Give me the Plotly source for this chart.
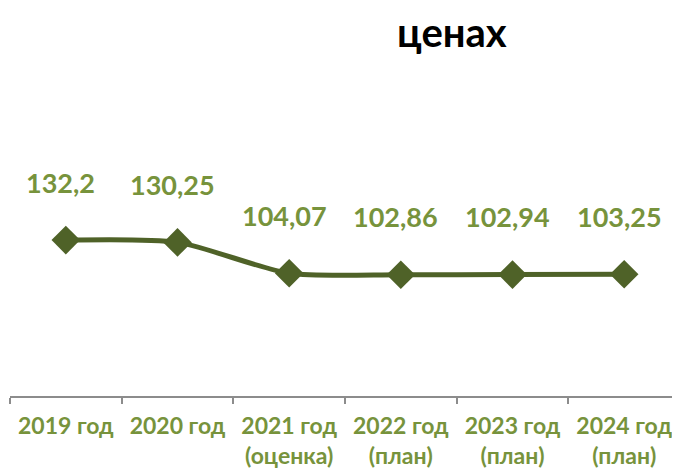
import plotly.graph_objects as go

categories = ["2019 год", "2020 год", "2021 год<br>(оценка)", "2022 год<br>(план)", "2023 год<br>(план)", "2024 год<br>(план)"]
values = [132.2, 130.25, 104.07, 102.86, 102.94, 103.25]
value_labels = ["132,2", "130,25", "104,07", "102,86", "102,94", "103,25"]

LINE = "#4F6228"
LABEL = "#77933C"
FONT = "Lato, 'Open Sans', sans-serif"

fig = go.Figure()
fig.add_trace(go.Scatter(
    x=categories, y=values, mode="lines+markers",
    line=dict(color=LINE, width=5, shape="spline", smoothing=0.7),
    marker=dict(symbol="diamond", size=22, color=LINE),
    hoverinfo="skip",
))

for c, v, t in zip(categories, values, value_labels):
    fig.add_annotation(x=c, y=v, text=t, showarrow=False, yshift=58, xshift=-5,
                       font=dict(family=FONT, size=27, color=LABEL, weight="bold"))

fig.add_annotation(xref="paper", yref="paper", x=0.66, y=1.0, yshift=48,
                   xanchor="center", yanchor="top",
                   text="ценах", showarrow=False,
                   font=dict(family=FONT, size=40, color="#000000", weight="bold"))

fig.update_layout(
    width=672, height=461,
    margin=dict(l=2, r=0, t=46, b=73, autoexpand=False),
    paper_bgcolor="white", plot_bgcolor="white",
    showlegend=False,
    xaxis=dict(
        type="category", range=[-0.5, 5.5], tickson="boundaries",
        automargin=False,
        showline=True, linecolor="#8C8C8C", linewidth=2,
        ticks="outside", ticklen=6, tickwidth=2, tickcolor="#8C8C8C",
        showgrid=False, zeroline=False, ticklabelstandoff=8,
        tickfont=dict(family=FONT, size=23, color=LABEL, weight="bold"),
    ),
    yaxis=dict(range=[0, 290], visible=False, showgrid=False, zeroline=False),
)

fig.write_html("out.html")
